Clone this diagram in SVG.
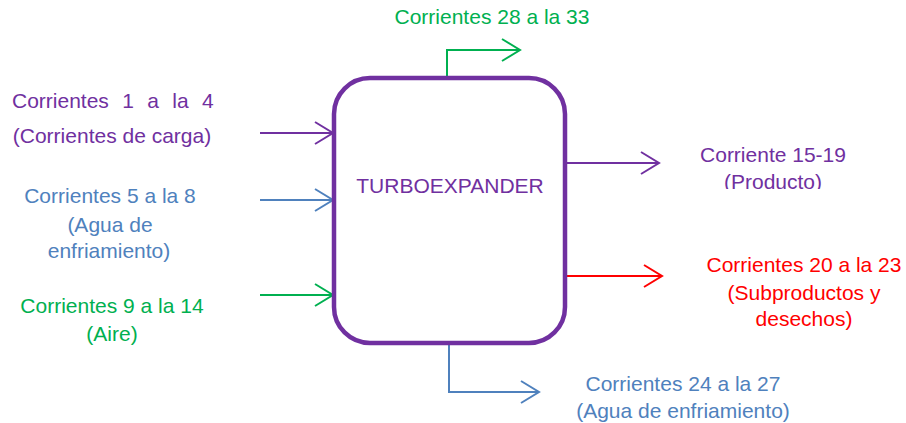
<svg xmlns="http://www.w3.org/2000/svg" width="906" height="423" viewBox="0 0 906 423">
<style>
text{font-family:"Liberation Sans",Arial,sans-serif;font-size:21px;text-anchor:middle}
.pu{fill:#7030A0}.bl{fill:#4F81BD}.gr{fill:#00B050}.rd{fill:#FF0000}
.ln{fill:none;stroke-width:2}
.lpu{stroke:#7030A0}.lbl{stroke:#4F81BD}.lgr{stroke:#00B050}.lrd{stroke:#FF0000}
</style>
<defs>
<marker id="mpu" markerUnits="userSpaceOnUse" markerWidth="24" markerHeight="26" refX="19" refY="12" orient="auto"><path d="M1,1 L19,12 L1,23" fill="none" stroke="#7030A0" stroke-width="2"/></marker>
<marker id="mbl" markerUnits="userSpaceOnUse" markerWidth="24" markerHeight="26" refX="19" refY="12" orient="auto"><path d="M1,1 L19,12 L1,23" fill="none" stroke="#4F81BD" stroke-width="2"/></marker>
<marker id="mgr" markerUnits="userSpaceOnUse" markerWidth="24" markerHeight="26" refX="19" refY="12" orient="auto"><path d="M1,1 L19,12 L1,23" fill="none" stroke="#00B050" stroke-width="2"/></marker>
<marker id="mrd" markerUnits="userSpaceOnUse" markerWidth="24" markerHeight="26" refX="19" refY="12" orient="auto"><path d="M1,1 L19,12 L1,23" fill="none" stroke="#FF0000" stroke-width="2"/></marker>
<clipPath id="clipProd"><rect x="600" y="100" width="300" height="89"/></clipPath>
</defs>
<g id="connectors">
<path class="ln lpu" d="M260,133 H333" marker-end="url(#mpu)"/>
<path class="ln lbl" d="M260,200 H333" marker-end="url(#mbl)"/>
<path class="ln lgr" d="M260,295 H333" marker-end="url(#mgr)"/>
<path class="ln lgr" d="M447,78 V50 H520" marker-end="url(#mgr)"/>
<path class="ln lpu" d="M565,163 H659" marker-end="url(#mpu)"/>
<path class="ln lrd" d="M565,276 H662" marker-end="url(#mrd)"/>
<path class="ln lbl" d="M449,343 V392 H539" marker-end="url(#mbl)"/>
</g>
<g id="turboexpander">
<rect x="334" y="78" width="231" height="265" rx="36" ry="36" fill="#FFFFFF" stroke="#7030A0" stroke-width="4.5"/>
<text class="pu" x="450" y="193">TURBOEXPANDER</text>
</g>
<g id="in1">
<text class="pu" x="12" y="108" style="text-anchor:start;word-spacing:7.5px">Corrientes 1 a la 4</text>
<text class="pu" x="112" y="143">(Corrientes de carga)</text>
</g>
<g id="in2">
<text class="bl" x="110" y="203">Corrientes 5 a la 8</text>
<text class="bl" x="110" y="232">(Agua de</text>
<text class="bl" x="109" y="258">enfriamiento)</text>
</g>
<g id="in3">
<text class="gr" x="112" y="313">Corrientes 9 a la 14</text>
<text class="gr" x="112" y="341">(Aire)</text>
</g>
<g id="out-top">
<text class="gr" x="492" y="24">Corrientes 28 a la 33</text>
</g>
<g id="out-product">
<text class="pu" x="773" y="162">Corriente 15-19</text>
<text class="pu" x="773" y="189" clip-path="url(#clipProd)">(Producto)</text>
</g>
<g id="out-waste">
<text class="rd" x="804" y="272">Corrientes 20 a la 23</text>
<text class="rd" x="804" y="300">(Subproductos y</text>
<text class="rd" x="804" y="326">desechos)</text>
</g>
<g id="out-bottom">
<text class="bl" x="683" y="391">Corrientes 24 a la 27</text>
<text class="bl" x="683" y="418">(Agua de enfriamiento)</text>
</g>
</svg>
